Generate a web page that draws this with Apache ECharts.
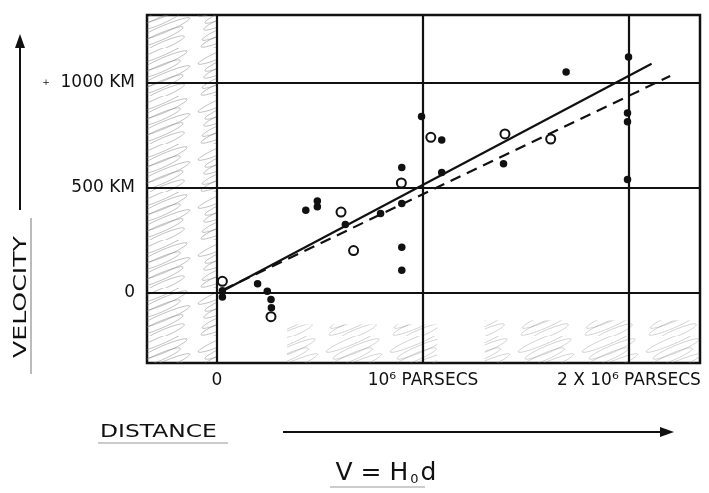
<!DOCTYPE html>
<html><head><meta charset="utf-8">
<script src="https://cdn.jsdelivr.net/npm/echarts@6/dist/echarts.min.js"></script>
<style>html,body{margin:0;padding:0;background:#fff}#c{width:709px;height:493px}</style>
</head><body><div id="c"></div>
<script>
// ---- data (distance in 10^6 parsecs, velocity in km/s) ----
const xTicks = [0, 1, 2];
const xTickLabels = ['0', '10⁶ PARSECS', '2 X 10⁶ PARSECS'];
const yTicks = [0, 500, 1000];
const yTickLabels = ['0', '500 KM', '{p|+}  1000 KM'];
const filledDist = [0.026, 0.026, 0.197, 0.244, 0.262, 0.264, 0.431, 0.487, 0.487, 0.623, 0.794, 0.897, 0.897, 0.897, 0.897, 0.993, 1.091, 1.091, 1.391, 1.695, 1.998, 1.993, 1.993, 1.993];
const filledVel  = [10, -20, 44, 8, -31, -71, 393, 437, 409, 325, 377, 596, 425, 217, 107, 838, 726, 572, 613, 1049, 1120, 855, 813, 539];
const openDist = [0.026, 0.262, 0.602, 0.663, 0.895, 1.038, 1.398, 1.62];
const openVel  = [55, -113, 384, 201, 522, 739, 755, 731];
const solidFitDist = [0.02, 2.11];
const solidFitVel  = [5, 1088];
const dashFitDist = [0.03, 2.2];
const dashFitVel  = [15, 1030];
const xRange = [-0.34, 2.345];
const yRange = [-333, 1320];

const FONT = "'DejaVu Sans', sans-serif";
const zip = (a, b) => a.map((v, i) => [v, b[i]]);

function hatch(alpha) {
  const c = document.createElement('canvas');
  c.width = 64; c.height = 48;
  const g = c.getContext('2d');
  g.strokeStyle = 'rgba(120,120,120,' + alpha + ')';
  g.lineWidth = 1;
  for (let k = 0; k < 6; k++) {
    g.beginPath();
    g.ellipse(32 + (k % 2) * 4, 5 + k * 8, 28 - (k % 3) * 3, 3.5, -0.4, 0, Math.PI * 2);
    g.stroke();
  }
  return c;
}

const chart = echarts.init(document.getElementById('c'));
chart.setOption({
  backgroundColor: '#fff',
  animation: false,
  grid: { left: 147, right: 9, top: 15, bottom: 130, show: true, borderColor: '#111', borderWidth: 2.5, backgroundColor: '#fff' },
  xAxis: {
    type: 'value', min: xRange[0], max: xRange[1],
    axisLine: { show: false }, axisTick: { show: false }, splitLine: { show: false },
    axisLabel: {
      customValues: xTicks, margin: 9, color: '#111', fontFamily: FONT, fontSize: 17,
      formatter: v => xTickLabels[xTicks.indexOf(v)] || ''
    }
  },
  yAxis: {
    type: 'value', min: yRange[0], max: yRange[1],
    axisLine: { show: false }, axisTick: { show: false }, splitLine: { show: false },
    axisLabel: {
      customValues: yTicks, margin: 12, color: '#111', fontFamily: FONT, fontSize: 17,
      formatter: v => yTickLabels[yTicks.indexOf(v)] || '',
      rich: { p: { fontSize: 9, color: '#111', fontFamily: FONT } }
    }
  },
  series: [
    {
      type: 'scatter', data: [], silent: true,
      markArea: {
        silent: true,
        itemStyle: { color: { image: hatch(0.45), repeat: 'repeat' } },
        data: [
          [{ xAxis: xRange[0], yAxis: yRange[0] }, { xAxis: xTicks[0], yAxis: yRange[1] }]
        ]
      }
    },
    {
      type: 'scatter', data: [], silent: true,
      markArea: {
        silent: true,
        itemStyle: { color: { image: hatch(0.32), repeat: 'repeat' } },
        data: [
          [{ xAxis: 0.34, yAxis: yRange[0] }, { xAxis: 1.07, yAxis: -150 }],
          [{ xAxis: 1.3, yAxis: yRange[0] }, { xAxis: xRange[1], yAxis: -130 }]
        ]
      }
    },
    {
      type: 'scatter', data: [], silent: true, z: 3,
      markLine: {
        silent: true, symbol: 'none', label: { show: false },
        lineStyle: { color: '#111', type: 'solid', width: 2.2 },
        data: xTicks.map(v => ({ xAxis: v })).concat(yTicks.map(v => ({ yAxis: v })))
      }
    },
    {
      name: 'fit', type: 'line', data: zip(solidFitDist, solidFitVel), symbol: 'none', z: 4,
      lineStyle: { color: '#111', width: 2.2 }
    },
    {
      name: 'fit2', type: 'line', data: zip(dashFitDist, dashFitVel), symbol: 'none', z: 4,
      lineStyle: { color: '#111', width: 2.2, type: [11, 7] }
    },
    {
      name: 'filled', type: 'scatter', data: zip(filledDist, filledVel), symbolSize: 7.5, z: 5,
      itemStyle: { color: '#111', opacity: 1 }
    },
    {
      name: 'open', type: 'scatter', data: zip(openDist, openVel), symbolSize: 9, z: 5,
      itemStyle: { color: '#fff', borderColor: '#111', borderWidth: 2, opacity: 1 }
    }
  ],
  graphic: [
    // y-axis title and arrow
    { type: 'text', x: 21, y: 297, rotation: Math.PI / 2, scaleX: 1.4, style: { text: 'VELOCITY', font: '18px ' + FONT, fill: '#111', align: 'center', verticalAlign: 'middle' } },
    { type: 'line', shape: { x1: 31, y1: 218, x2: 31, y2: 374 }, style: { stroke: '#bbb', lineWidth: 2 } },
    { type: 'line', shape: { x1: 20, y1: 210, x2: 20, y2: 44 }, style: { stroke: '#111', lineWidth: 2 } },
    { type: 'polygon', shape: { points: [[20, 34], [15, 48], [25, 48]] }, style: { fill: '#111' } },
    // x-axis title and arrow
    { type: 'text', x: 100, y: 432, scaleX: 1.3, style: { text: 'DISTANCE', font: '18px ' + FONT, fill: '#111', align: 'left', verticalAlign: 'middle' } },
    { type: 'line', shape: { x1: 98, y1: 443, x2: 228, y2: 443 }, style: { stroke: '#ccc', lineWidth: 2 } },
    { type: 'line', shape: { x1: 283, y1: 432, x2: 662, y2: 432 }, style: { stroke: '#111', lineWidth: 2 } },
    { type: 'polygon', shape: { points: [[674, 432], [660, 427], [660, 437]] }, style: { fill: '#111' } },
    // formula
    { type: 'text', x: 386, y: 473, style: { text: '{v|V = H}{o|0}{v|d}', align: 'center', verticalAlign: 'middle', fill: '#111',
        rich: { v: { font: '25px ' + FONT, fill: '#111' }, o: { font: '13px ' + FONT, fill: '#111', verticalAlign: 'bottom', padding: [14, 2, 0, 2] } } } },
    { type: 'line', shape: { x1: 330, y1: 487, x2: 425, y2: 487 }, style: { stroke: '#ccc', lineWidth: 2 } }
  ]
});
</script>
</body></html>
